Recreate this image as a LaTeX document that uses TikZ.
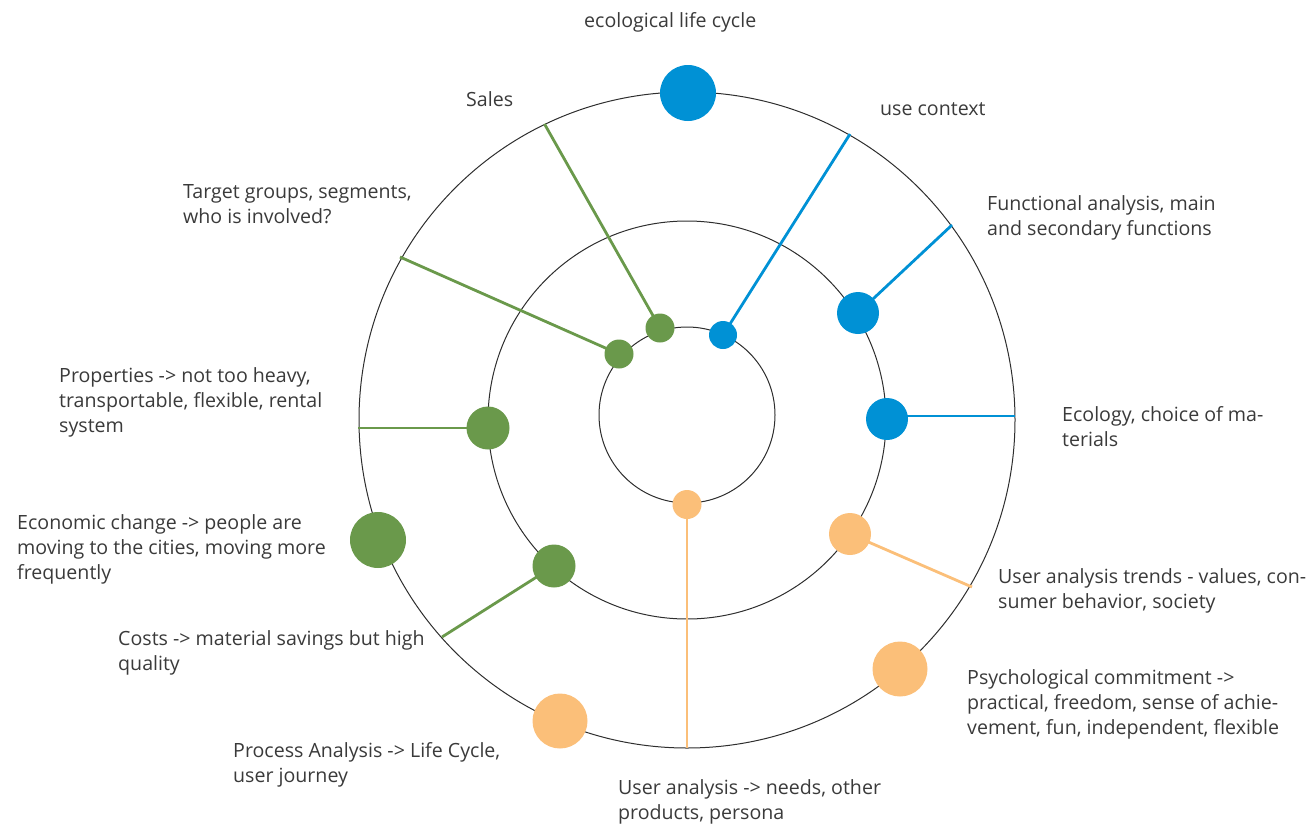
\documentclass[tikz,border=0pt]{standalone}
\usepackage{fontspec}
\setmainfont{Open Sans}
\usetikzlibrary{backgrounds}
\definecolor{cblue}{HTML}{0091D5}
\definecolor{cgreen}{HTML}{6A994B}
\definecolor{corange}{HTML}{FBBF79}
\definecolor{ringgray}{HTML}{2E2E2E}
\definecolor{textgray}{HTML}{3A3A3A}
\begin{document}
\begin{tikzpicture}[x=1pt,y=-1pt,
  ring/.style={draw=ringgray, line width=1pt},
  conn/.style={line width=2.8pt},
  dot/.style={circle, inner sep=0pt, draw=none},
  lbl/.style={anchor=base west, align=left, inner sep=0pt, text=textgray,
    font=\fontsize{19.6}{25}\selectfont}]
\useasboundingbox (0,0) rectangle (1310,828);
\coordinate (c) at (687,420);
\coordinate (ci) at (687,415);
% dots
\node[dot, fill=cblue, minimum size=56pt] (b1) at (688,93) {};
\node[dot, fill=cblue, minimum size=28pt] (b2) at (723,335) {};
\node[dot, fill=cblue, minimum size=42pt] (b3) at (858,313) {};
\node[dot, fill=cblue, minimum size=42pt] (b4) at (887,419) {};
\node[dot, fill=cgreen, minimum size=29pt] (g1) at (660,328) {};
\node[dot, fill=cgreen, minimum size=29pt] (g2) at (619,354) {};
\node[dot, fill=cgreen, minimum size=43pt] (g3) at (488,428) {};
\node[dot, fill=cgreen, minimum size=56pt] (g4) at (378,540) {};
\node[dot, fill=cgreen, minimum size=43pt] (g5) at (554,566) {};
\node[dot, fill=corange, minimum size=29pt] (o1) at (687,504.5) {};
\node[dot, fill=corange, minimum size=42pt] (o2) at (850,534) {};
\node[dot, fill=corange, minimum size=55pt] (o3) at (900,669) {};
\node[dot, fill=corange, minimum size=55pt] (o4) at (560,721) {};
% connector ends on outer ring
\coordinate (b2e) at (850,134);
\coordinate (b3e) at (952,225);
\coordinate (b4e) at (1015,416);
\coordinate (g1e) at (544.5,124);
\coordinate (g2e) at (400,257);
\coordinate (g3e) at (358,428);
\coordinate (g5e) at (442,637);
\coordinate (o1e) at (687,748);
\coordinate (o2e) at (972,587);
\begin{pgfonlayer}{background}
\draw[ring] (c) circle[radius=328pt];
\draw[ring] (c) circle[radius=199pt];
\draw[ring] (ci) circle[radius=88pt];
\draw[conn, draw=cblue] (b2.center) -- (b2e);
\draw[conn, draw=cblue] (b3.center) -- (b3e);
\draw[conn, draw=cblue] (b4.center |- b4e) -- (b4e);
\draw[conn, draw=cgreen] (g1.center) -- (g1e);
\draw[conn, draw=cgreen] (g2.center) -- (g2e);
\draw[conn, draw=cgreen] (g3.center) -- (g3e);
\draw[conn, draw=cgreen] (g5.center) -- (g5e);
\draw[conn, draw=corange] (o1.center) -- (o1e);
\draw[conn, draw=corange] (o2.center) -- (o2e);
\end{pgfonlayer}
% labels (anchored at the baseline of their last line)
\node[lbl] (t1) at (584,27) {ecological life cycle};
\node[lbl] (t2) at (466,106) {Sales};
\node[lbl] (t3) at (880,115) {use context};
\node[lbl] (t4) at (183,223) {Target groups, segments,\\who is involved?};
\node[lbl] (t5) at (987,235) {Functional analysis, main\\and secondary functions};
\node[lbl] (t6) at (59,432) {Properties -> not too heavy,\\transportable, flexible, rental\\system};
\node[lbl] (t7) at (1062,446) {Ecology, choice of ma-\\terials};
\node[lbl] (t8) at (17,579) {Economic change -> people are\\moving to the cities, moving more\\frequently};
\node[lbl] (t9) at (998,608) {User analysis trends - values, con-\\sumer behavior, society};
\node[lbl] (t10) at (118,670) {Costs -> material savings but high\\quality};
\node[lbl] (t11) at (967,734) {Psychological commitment ->\\practical, freedom, sense of achie-\\vement, fun, independent, flexible};
\node[lbl] (t12) at (233,782) {Process Analysis -> Life Cycle,\\user journey};
\node[lbl] (t13) at (618,819) {User analysis -> needs, other\\products, persona};
\end{tikzpicture}
\end{document}
